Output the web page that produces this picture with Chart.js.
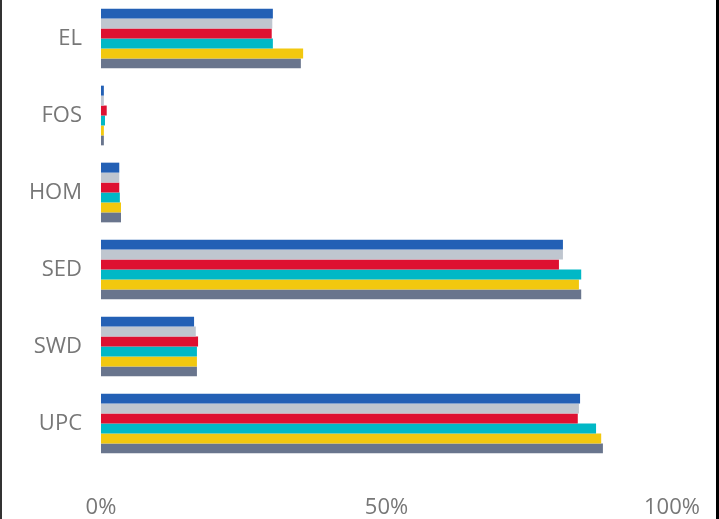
<!DOCTYPE html>
<html>
<head>
<meta charset="utf-8">
<script src="https://cdn.jsdelivr.net/npm/chart.js@4/dist/chart.umd.min.js"></script>
<style>
  html, body { margin: 0; padding: 0; background: #fff; }
  #wrap { position: relative; width: 719px; height: 519px; overflow: hidden; }
  #wrap canvas { position: absolute; left: 0; top: 0; }
  #bl { position: absolute; left: 0; top: 0; width: 2px; height: 519px; background: #333; }
  #br { position: absolute; left: 716px; top: 0; width: 3px; height: 519px; background: #000; }
</style>
</head>
<body>
<div id="wrap">
  <canvas id="c" width="719" height="519"></canvas>
  <div id="bl"></div>
  <div id="br"></div>
</div>
<script>
const categories = ["EL", "FOS", "HOM", "SED", "SWD", "UPC"];
const xTickLabels = ["0%", "50%", "100%"];
const seriesNames = ["Series 1", "Series 2", "Series 3", "Series 4", "Series 5", "Series 6"];
const seriesColors = ["#2360B5", "#BFC6CF", "#DE1131", "#01B8C6", "#F2C80F", "#69758D"];

const series1 = [30.1, 0.5, 3.2, 80.9, 16.3, 83.9];
const series2 = [30.0, 0.5, 3.2, 80.9, 16.6, 83.7];
const series3 = [29.9, 1.0, 3.2, 80.2, 17.0, 83.5];
const series4 = [30.1, 0.7, 3.3, 84.1, 16.8, 86.7];
const series5 = [35.4, 0.5, 3.5, 83.7, 16.8, 87.6];
const series6 = [35.0, 0.5, 3.5, 84.1, 16.8, 87.9];

const allSeries = [series1, series2, series3, series4, series5, series6];

const datasets = allSeries.map((d, i) => ({
  label: seriesNames[i],
  data: d,
  backgroundColor: seriesColors[i],
  borderWidth: 0,
  barPercentage: 1.0,
  categoryPercentage: 0.775
}));

const labelFont = { family: "'Open Sans', 'Noto Sans', sans-serif", size: 22 };

new Chart(document.getElementById('c'), {
  type: 'bar',
  data: { labels: categories, datasets },
  options: {
    indexAxis: 'y',
    responsive: false,
    animation: false,
    layout: { padding: { top: -3, right: 47, bottom: 0, left: 0 } },
    plugins: { legend: { display: false }, tooltip: { enabled: false } },
    scales: {
      y: {
        grid: { display: false, drawTicks: false },
        border: { display: false },
        ticks: { color: '#777777', font: labelFont, padding: 19 },
        afterFit(scale) {
          scale.width = 101;
          scale.paddingTop = 0;
          scale.paddingBottom = 0;
        }
      },
      x: {
        min: 0,
        max: 100,
        grid: { display: false, drawTicks: false },
        border: { display: false },
        ticks: {
          stepSize: 50,
          color: '#777777',
          font: labelFont,
          padding: 33,
          maxRotation: 0,
          callback: (v) => xTickLabels[Math.round(v / 50)]
        },
        afterFit(scale) {
          scale.height = 57;
          scale.paddingLeft = 0;
          scale.paddingRight = 0;
        }
      }
    }
  }
});
</script>
</body>
</html>
